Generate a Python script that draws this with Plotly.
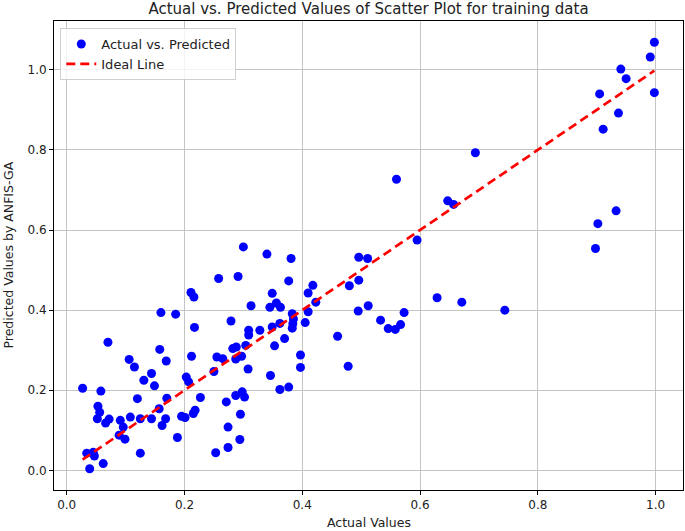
import plotly.graph_objects as go

actual = [
    0.027, 0.058, 0.070, 0.053, 0.056, 0.052, 0.066, 0.072, 0.034, 0.045,
    0.047, 0.039, 0.062, 0.091, 0.108, 0.125, 0.096, 0.089, 0.099, 0.125,
    0.120, 0.106, 0.115, 0.131, 0.144, 0.149, 0.144, 0.157, 0.162, 0.168,
    0.170, 0.169, 0.158, 0.160, 0.185, 0.188, 0.195, 0.201, 0.215, 0.218,
    0.227, 0.203, 0.207, 0.212, 0.217, 0.211, 0.216, 0.250, 0.255, 0.265,
    0.258, 0.291, 0.279, 0.282, 0.288, 0.287, 0.297, 0.304, 0.308, 0.271,
    0.287, 0.298, 0.302, 0.295, 0.274, 0.294, 0.274, 0.253, 0.300, 0.340,
    0.381, 0.377, 0.349, 0.313, 0.345, 0.356, 0.363, 0.309, 0.309, 0.328,
    0.349, 0.362, 0.370, 0.353, 0.383, 0.385, 0.384, 0.383, 0.410, 0.405,
    0.418, 0.410, 0.423, 0.346, 0.362, 0.377, 0.397, 0.397, 0.460, 0.478,
    0.480, 0.496, 0.496, 0.511, 0.495, 0.512, 0.533, 0.546, 0.558, 0.567,
    0.573, 0.560, 0.595, 0.629, 0.647, 0.657, 0.671, 0.694, 0.744, 0.898,
    0.902, 0.933, 0.905, 0.911, 0.937, 0.941, 0.950, 0.991, 0.998, 0.998,
]
predicted = [
    0.205, 0.198, 0.320, 0.160, 0.145, 0.129, 0.118, 0.128, 0.043, 0.045,
    0.036, 0.004, 0.017, 0.125, 0.133, 0.129, 0.108, 0.088, 0.078, 0.043,
    0.179, 0.277, 0.258, 0.225, 0.242, 0.211, 0.129, 0.154, 0.112, 0.129,
    0.180, 0.273, 0.302, 0.394, 0.390, 0.082, 0.135, 0.132, 0.142, 0.150,
    0.182, 0.233, 0.221, 0.285, 0.357, 0.444, 0.433, 0.247, 0.283, 0.279,
    0.479, 0.484, 0.373, 0.304, 0.308, 0.278, 0.285, 0.312, 0.253, 0.171,
    0.187, 0.196, 0.183, 0.140, 0.108, 0.077, 0.057, 0.044, 0.558, 0.540,
    0.529, 0.473, 0.442, 0.411, 0.407, 0.418, 0.407, 0.350, 0.338, 0.350,
    0.358, 0.367, 0.329, 0.311, 0.391, 0.378, 0.366, 0.355, 0.396, 0.369,
    0.462, 0.443, 0.420, 0.237, 0.202, 0.208, 0.288, 0.257, 0.335, 0.260,
    0.461, 0.475, 0.532, 0.529, 0.398, 0.411, 0.375, 0.354, 0.352, 0.364,
    0.394, 0.727, 0.575, 0.431, 0.673, 0.664, 0.420, 0.793, 0.400, 0.554,
    0.616, 0.648, 0.940, 0.852, 0.892, 1.002, 0.978, 1.032, 1.069, 0.943,
]

ideal_x = [min(actual), max(actual)]
ideal_y = [min(actual), max(actual)]

xticks = [0.0, 0.2, 0.4, 0.6, 0.8, 1.0]
yticks = [0.0, 0.2, 0.4, 0.6, 0.8, 1.0]
xtick_labels = ["0.0", "0.2", "0.4", "0.6", "0.8", "1.0"]
ytick_labels = ["0.0", "0.2", "0.4", "0.6", "0.8", "1.0"]

FONT = "DejaVu Sans"

fig = go.Figure()
fig.add_trace(go.Scatter(
    x=actual, y=predicted, mode="markers", name="Actual vs. Predicted",
    marker=dict(color="#0000ff", size=9, line=dict(width=0)),
))
fig.add_trace(go.Scatter(
    x=ideal_x, y=ideal_y, mode="lines", name="Ideal Line",
    line=dict(color="#ff0000", width=2.7, dash="9px,5px"),
))

axis_common = dict(
    showline=True, linecolor="black", linewidth=1, mirror=True,
    ticks="outside", ticklen=4, tickcolor="black", tickwidth=1,
    showgrid=True, gridcolor="#c4c4c4", gridwidth=1, zeroline=False,
    tickfont=dict(family=FONT, size=12, color="#222"),
)

fig.update_layout(
    width=685, height=531,
    margin=dict(l=54, r=2, t=21, b=41),
    paper_bgcolor="white", plot_bgcolor="white",
    font=dict(family=FONT, color="#222"),
    title=dict(
        text="Actual vs. Predicted Values of Scatter Plot for training data",
        x=(54 + 683) / 2 / 685, xanchor="center",
        y=1 - 9 / 531, yanchor="middle",
        font=dict(family=FONT, size=15, color="#222"),
    ),
    xaxis=dict(range=[-0.0216, 1.0466], tickvals=xticks, ticktext=xtick_labels, **axis_common),
    yaxis=dict(range=[-0.049, 1.122], tickvals=yticks, ticktext=ytick_labels, **axis_common),
    legend=dict(
        x=0.01, y=0.985, xanchor="left", yanchor="top",
        bgcolor="rgba(255,255,255,0.8)", bordercolor="#d0d0d0", borderwidth=1,
        font=dict(family=FONT, size=13, color="#222"),
        itemwidth=30, tracegroupgap=2,
    ),
    showlegend=True,
    annotations=[
        dict(text="Actual Values", xref="paper", yref="paper",
             x=0.5, y=(490 - 522) / 469, xanchor="center", yanchor="middle",
             showarrow=False, font=dict(family=FONT, size=12.5, color="#222")),
        dict(text="Predicted Values by ANFIS-GA", xref="paper", yref="paper",
             x=-(54 - 8) / 629, y=0.5, xanchor="center", yanchor="middle",
             textangle=-90, showarrow=False,
             font=dict(family=FONT, size=12.5, color="#222")),
    ],
)

fig.write_html(
    "out.html",
    config={"displayModeBar": False},
    post_script="document.body.style.margin='0';document.body.style.overflow='hidden';",
)
